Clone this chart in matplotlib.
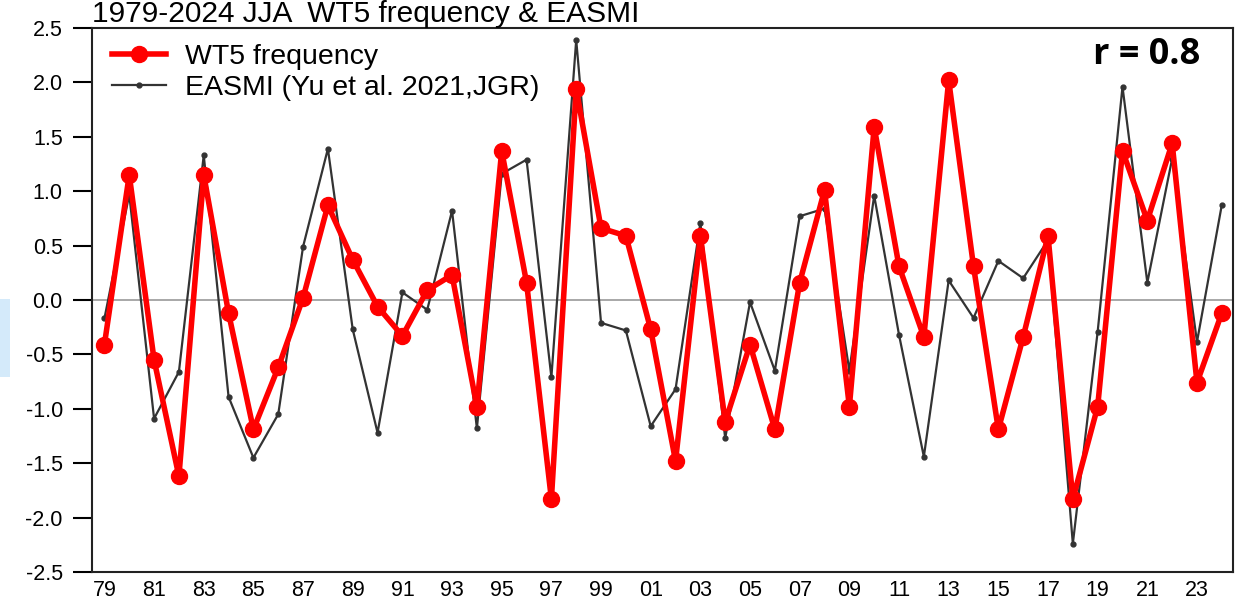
import matplotlib
matplotlib.use("Agg")
import matplotlib.pyplot as plt
from matplotlib.patches import Rectangle

years = list(range(1979, 2025))

wt5_frequency = [-0.41, 1.15, -0.55, -1.62, 1.15, -0.12, -1.19, -0.62, 0.02, 0.87,
                 0.37, -0.06, -0.33, 0.09, 0.23, -0.98, 1.37, 0.16, -1.83, 1.94,
                 0.66, 0.59, -0.27, -1.48, 0.59, -1.12, -0.41, -1.19, 0.16, 1.01,
                 -0.98, 1.59, 0.31, -0.34, 2.02, 0.31, -1.19, -0.34, 0.59, -1.83,
                 -0.98, 1.37, 0.73, 1.44, -0.76, -0.12]

easmi = [-0.17, 0.97, -1.09, -0.66, 1.33, -0.89, -1.45, -1.05, 0.49, 1.39,
         -0.27, -1.22, 0.07, -0.09, 0.82, -1.18, 1.16, 1.29, -0.71, 2.39,
         -0.21, -0.28, -1.16, -0.82, 0.71, -1.27, -0.02, -0.65, 0.77, 0.84,
         -0.65, 0.96, -0.32, -1.44, 0.18, -0.165, 0.36, 0.20, 0.55, -2.24,
         -0.29, 1.96, 0.16, 1.30, -0.385, 0.875]

xtick_years = list(range(1979, 2025, 2))
xtick_labels = [f"{y % 100:02d}" for y in xtick_years]
ytick_values = [-2.5, -2.0, -1.5, -1.0, -0.5, 0.0, 0.5, 1.0, 1.5, 2.0, 2.5]

plt.rcParams['font.family'] = ['Liberation Sans', 'DejaVu Sans']

fig = plt.figure(figsize=(12.4, 6.0), dpi=100)
ax = fig.add_axes([92/1240, 28/600, (1233-92)/1240, (572-28)/600])

ax.axhline(0, color='#999999', lw=1.2, zorder=1)

ax.plot(years, easmi, color='#333333', lw=1.6, marker='o', markersize=3.5,
        label='EASMI (Yu et al. 2021,JGR)', zorder=2)
ax.plot(years, wt5_frequency, color='#ff0000', lw=4.0, marker='o', markersize=11.5,
        label='WT5 frequency', zorder=3)

ax.set_xlim(1978.5, 2024.45)
ax.set_ylim(-2.5, 2.5)
ax.set_yticks(ytick_values)
ax.set_yticklabels([f"{v:.1f}" for v in ytick_values])
ax.set_xticks(xtick_years)
ax.set_xticklabels(xtick_labels)
ax.tick_params(axis='y', direction='out', length=14, width=1.5, labelsize=15.5, pad=7)
ax.tick_params(axis='x', length=0, labelsize=15.5, pad=6)
for s in ax.spines.values():
    s.set_linewidth(1.5)
    s.set_color('#222222')

handles, labels = ax.get_legend_handles_labels()
ax.legend(handles[::-1], labels[::-1], loc='upper left', frameon=False, fontsize=20.5,
          handlelength=1.9, handletextpad=0.65, borderaxespad=0.3, labelspacing=0.2,
          bbox_to_anchor=(0.0, 1.008))

ax.set_title('1979-2024 JJA  WT5 frequency & EASMI', loc='left', fontsize=21.5, pad=1)

ax.text(0.971, 0.95, 'r = 0.8', transform=ax.transAxes, ha='right', va='center',
        fontsize=26, fontweight='bold', family=['Open Sans', 'DejaVu Sans'])

fig.patches.append(Rectangle((0, 1 - 377/600), 10/1240, 78/600, transform=fig.transFigure,
                             facecolor='#d4eafa', edgecolor='none'))

fig.savefig('out.png', dpi=100)
